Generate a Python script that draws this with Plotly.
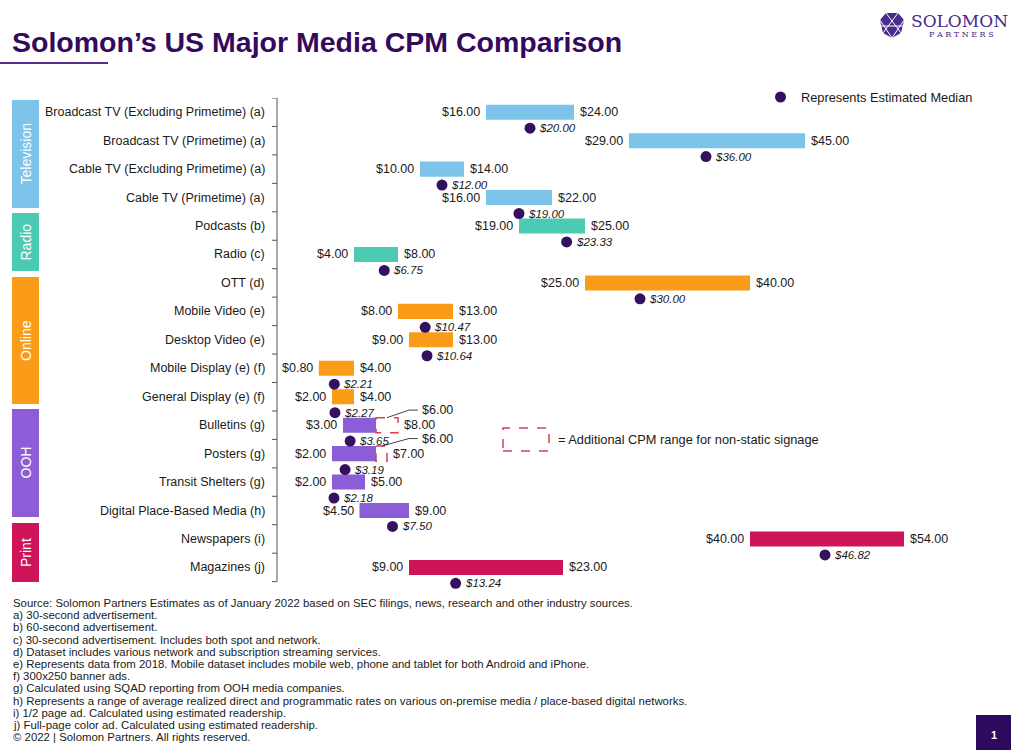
import plotly.graph_objects as go

# ---------------- data ----------------
categories = [
    "Broadcast TV (Excluding Primetime) (a)", "Broadcast TV (Primetime) (a)",
    "Cable TV (Excluding Primetime) (a)", "Cable TV (Primetime) (a)",
    "Podcasts (b)", "Radio (c)", "OTT (d)", "Mobile Video (e)", "Desktop Video (e)",
    "Mobile Display (e) (f)", "General Display (e) (f)", "Bulletins (g)", "Posters (g)",
    "Transit Shelters (g)", "Digital Place-Based Media (h)", "Newspapers (i)", "Magazines (j)",
]
groups = ["Television"] * 4 + ["Radio"] * 2 + ["Online"] * 5 + ["OOH"] * 4 + ["Print"] * 2
low_values = [16, 29, 10, 16, 19, 4, 25, 8, 9, 0.80, 2, 3, 2, 2, 4.5, 40, 9]
high_values = [24, 45, 14, 22, 25, 8, 40, 13, 13, 4, 4, 6, 6, 5, 9, 54, 23]
extended_high = [None] * 11 + [8, 7] + [None] * 4   # additional range for non-static signage
median_values = [20.00, 36.00, 12.00, 19.00, 23.33, 6.75, 30.00, 10.47, 10.64,
                 2.21, 2.27, 3.65, 3.19, 2.18, 7.50, 46.82, 13.24]

group_names = ["Television", "Radio", "Online", "OOH", "Print"]
group_colors = {"Television": "#7cc4ea", "Radio": "#4ccbb2", "Online": "#fb9c18",
                "OOH": "#8c5dd6", "Print": "#cf1559"}

footnotes = [
    "Source: Solomon Partners Estimates as of January 2022 based on SEC filings, news, research and other industry sources.",
    "a) 30-second advertisement.",
    "b) 60-second advertisement.",
    "c) 30-second advertisement. Includes both spot and network.",
    "d) Dataset includes various network and subscription streaming services.",
    "e) Represents data from 2018. Mobile dataset includes mobile web, phone and tablet for both Android and iPhone.",
    "f) 300x250 banner ads.",
    "g) Calculated using SQAD reporting from OOH media companies.",
    "h) Represents a range of average realized direct and programmatic rates on various on-premise media / place-based digital networks.",
    "i) 1/2 page ad. Calculated using estimated readership.",
    "j) Full-page color ad. Calculated using estimated readership.",
    "\u00a9 2022 | Solomon Partners. All rights reserved.",
]

# ---------------- layout constants ----------------
n = len(categories)
W, H = 1024, 750
ROW = 484 / n                      # pixel height of one category row
EXTRA = 0.75                       # extra room below the last row for its median dot
ML, MR, MT = 277, 54, 98
MB = int(round(H - MT - (n + EXTRA) * ROW))
PW, PH = W - ML - MR, H - MT - MB
FONT = "Liberation Sans, Arial, sans-serif"
DOT = "#34115f"
TITLE_C = "#34095e"
TXT = "#1a1a1a"
RED = "#d9414b"
AXIS_C = "#555"
BAR_W = 0.53
DOT_OFF = 0.56


def px(x):
    return (x - ML) / PW


def py(y):
    return (H - MB - y) / PH


rows = list(range(n))
fmt = lambda v: f"${v:,.2f}"

fig = go.Figure()

# bars
for g in group_names:
    idx = [i for i in rows if groups[i] == g]
    fig.add_trace(go.Bar(
        orientation="h",
        y=[rows[i] for i in idx],
        x=[high_values[i] - low_values[i] for i in idx],
        base=[low_values[i] for i in idx],
        width=BAR_W,
        marker=dict(color=group_colors[g], line=dict(width=0)),
        showlegend=False, hoverinfo="skip",
    ))

# median dots
fig.add_trace(go.Scatter(
    x=median_values, y=[r + DOT_OFF for r in rows], mode="markers",
    marker=dict(color=DOT, size=11), cliponaxis=False, showlegend=False, hoverinfo="skip",
))

annotations = []
shapes = []

# category axis line with ticks between categories
shapes.append(dict(type="line", xref="paper", yref="y", x0=0, x1=0, y0=-0.5, y1=n - 0.5,
                   line=dict(color=AXIS_C, width=1)))
for b in range(n + 1):
    shapes.append(dict(type="line", xref="paper", yref="y", x0=px(ML - 5), x1=0, y0=b - 0.5, y1=b - 0.5,
                       line=dict(color=AXIS_C, width=1)))

for i in rows:
    lo, hi, md = low_values[i], high_values[i], median_values[i]
    ext = extended_high[i]
    right_end = ext if ext is not None else hi
    annotations.append(dict(x=lo, y=i, xref="x", yref="y", text=fmt(lo), showarrow=False,
                            xanchor="right", xshift=-4, font=dict(size=12.5, color=TXT, family=FONT)))
    annotations.append(dict(x=right_end, y=i, xref="x", yref="y", text=fmt(right_end), showarrow=False,
                            xanchor="left", xshift=4, font=dict(size=12.5, color=TXT, family=FONT)))
    annotations.append(dict(x=md, y=i + DOT_OFF, xref="x", yref="y", text=f"<i>{fmt(md)}</i>",
                            showarrow=False, xanchor="left", xshift=7,
                            font=dict(size=11.5, color=TXT, family=FONT)))
    # category labels
    annotations.append(dict(x=px(267), y=i, xref="paper", yref="y", text=categories[i], showarrow=False,
                            xanchor="right", font=dict(size=12.5, color=TXT, family=FONT)))
    if ext is not None:
        shapes.append(dict(type="rect", xref="x", yref="y", x0=hi, x1=ext,
                           y0=i - BAR_W / 2, y1=i + BAR_W / 2,
                           line=dict(color=RED, width=1.5, dash="dash"), fillcolor="rgba(0,0,0,0)"))
        # leader line to the static-range label
        mid = (hi + ext) / 2
        shapes.append(dict(type="path", xref="x", yref="y",
                           path=f"M {mid},{i - BAR_W / 2} L 9.0,{i - 0.53} L 9.8,{i - 0.53}",
                           line=dict(color="#444", width=1)))
        annotations.append(dict(x=10.0, y=i - 0.53, xref="x", yref="y", text=fmt(hi), showarrow=False,
                                xanchor="left", font=dict(size=12.5, color=TXT, family=FONT)))

# group boxes
box_pix = {"Television": (100, 208), "Radio": (213, 271), "Online": (277, 404),
           "OOH": (409, 517), "Print": (523, 582)}
for g in group_names:
    y0, y1 = box_pix[g]
    shapes.append(dict(type="rect", xref="paper", yref="paper", x0=px(12), x1=px(39),
                       y0=py(y1), y1=py(y0), fillcolor=group_colors[g], line=dict(width=0)))
    annotations.append(dict(x=px(25.5), y=py((y0 + y1) / 2), xref="paper", yref="paper", text=g,
                            textangle=-90, showarrow=False, xanchor="center",
                            font=dict(size=14, color="white", family=FONT)))

# title & underline
annotations.append(dict(x=px(10), y=py(42), xref="paper", yref="paper", xanchor="left",
                        text="<b>Solomon\u2019s US Major Media CPM Comparison</b>", showarrow=False,
                        font=dict(size=28.5, color=TITLE_C, family=FONT)))
shapes.append(dict(type="line", xref="paper", yref="paper", x0=px(0), x1=px(108), y0=py(63), y1=py(63),
                   line=dict(color="#5b2b8c", width=2)))

# median legend
shapes.append(dict(type="circle", xref="paper", yref="paper", x0=px(775), x1=px(786),
                   y0=py(102.5), y1=py(91.5), fillcolor=DOT, line=dict(width=0)))
annotations.append(dict(x=px(799), y=py(97), xref="paper", yref="paper", xanchor="left",
                        text="Represents Estimated Median", showarrow=False,
                        font=dict(size=12.8, color=TXT, family=FONT)))

# dashed-box legend
shapes.append(dict(type="rect", xref="paper", yref="paper", x0=px(503), x1=px(549), y0=py(451), y1=py(428),
                   line=dict(color=RED, width=1.5, dash="dash"), fillcolor="rgba(0,0,0,0)"))
annotations.append(dict(x=px(556), y=py(440), xref="paper", yref="paper", xanchor="left",
                        text="= Additional CPM range for non-static signage", showarrow=False,
                        font=dict(size=12.8, color=TXT, family=FONT)))

# footnotes
for k, line in enumerate(footnotes):
    annotations.append(dict(x=px(11), y=py(603 + k * 12.2), xref="paper", yref="paper", xanchor="left",
                            text=line, showarrow=False, font=dict(size=11.4, color=TXT, family=FONT)))

# page number box
shapes.append(dict(type="rect", xref="paper", yref="paper", x0=px(976), x1=px(1011), y0=py(750), y1=py(715),
                   fillcolor="#2e0a5e", line=dict(width=0)))
annotations.append(dict(x=px(993.5), y=py(735), xref="paper", yref="paper", text="<b>1</b>", showarrow=False,
                        xanchor="center", font=dict(size=11, color="white", family=FONT)))

# logo
LOGO = "#4a2a8c"
cx, cy = 892, 25
hex_pts = [(cx - 12, cy - 5), (cx - 6, cy - 12), (cx + 6, cy - 12), (cx + 12, cy - 5),
           (cx + 9, cy + 8), (cx, cy + 13), (cx - 9, cy + 8)]
path = "M " + " L ".join(f"{px(x)},{py(y)}" for x, y in hex_pts) + " Z"
shapes.append(dict(type="path", xref="paper", yref="paper", path=path, fillcolor=LOGO, line=dict(width=0)))
for (xa, ya, xb, yb) in [(cx - 12, cy - 5, cx, cy + 13), (cx + 12, cy - 5, cx, cy + 13),
                         (cx - 6, cy - 12, cx + 9, cy + 8), (cx + 6, cy - 12, cx - 9, cy + 8),
                         (cx - 12, cy + 1, cx + 12, cy + 1)]:
    shapes.append(dict(type="line", xref="paper", yref="paper", x0=px(xa), y0=py(ya), x1=px(xb), y1=py(yb),
                       line=dict(color="white", width=1)))
annotations.append(dict(x=px(909), y=py(21), xref="paper", yref="paper", xanchor="left", text="SOLOMON",
                        showarrow=False, font=dict(size=17, color=LOGO, family="DejaVu Serif, serif")))
annotations.append(dict(x=px(961), y=py(34), xref="paper", yref="paper", xanchor="center",
                        text="P A R T N E R S", showarrow=False,
                        font=dict(size=8, color=LOGO, family="DejaVu Serif, serif")))

for a in annotations:
    a.setdefault("yanchor", "middle")
    a.setdefault("xanchor", "center")

fig.update_layout(
    width=W, height=H, margin=dict(l=ML, r=MR, t=MT, b=MB),
    plot_bgcolor="white", paper_bgcolor="white", barmode="overlay",
    xaxis=dict(range=[-3, 60], visible=False, fixedrange=True),
    yaxis=dict(range=[n - 0.5 + EXTRA, -0.5], visible=False, fixedrange=True),
    shapes=shapes, annotations=annotations, font=dict(family=FONT),
)

fig.write_html("out.html")
